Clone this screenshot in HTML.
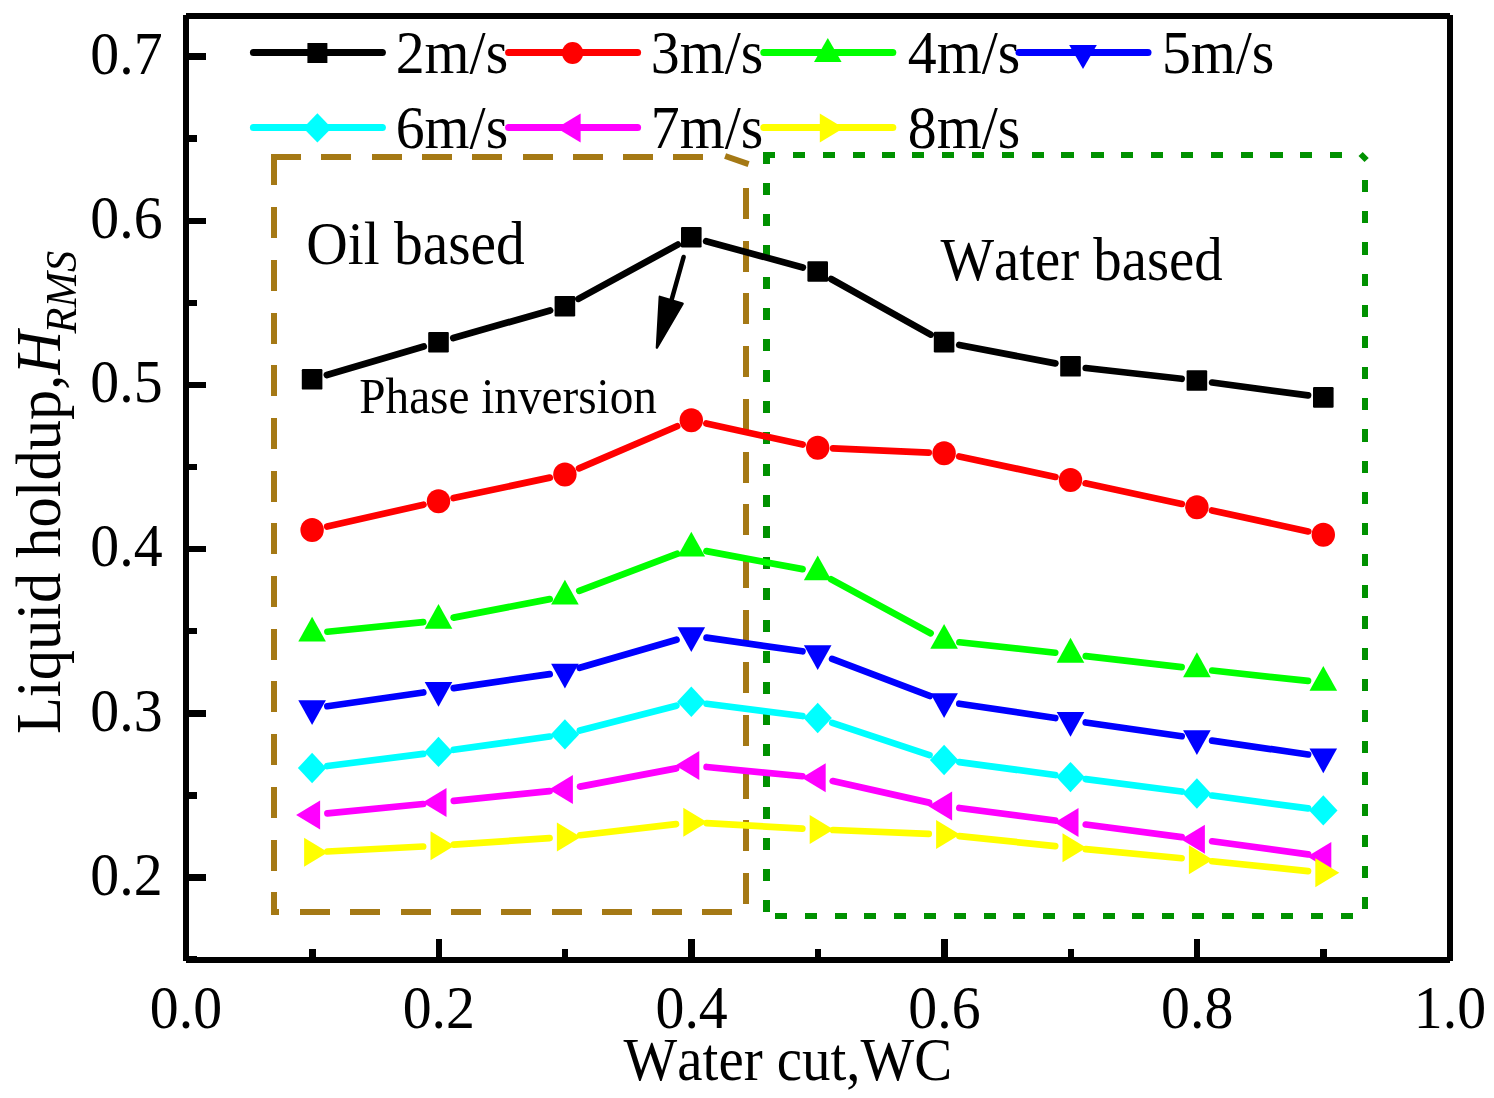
<!DOCTYPE html><html><head><meta charset="utf-8"><style>html,body{margin:0;padding:0;background:#fff;overflow:hidden;width:1494px;height:1098px;}svg{display:block;}text{font-family:"Liberation Serif",serif;fill:#000;font-kerning:none;}</style></head><body>
<svg width="1494" height="1098" viewBox="0 0 1494 1098">
<rect width="1494" height="1098" fill="#fff"/>
<path d="M271 157H301M321.3 157H351.3M371.6 157H401.6M421.9 157H451.9M472.2 157H502.2M522.5 157H552.5M572.8 157H602.8M623.1 157H653.1M673.4 157H703.4" stroke="#a57915" stroke-width="6" fill="none" shape-rendering="crispEdges"/>
<path d="M300 912.4H330M350.3 912.4H380.3M400.6 912.4H430.6M450.9 912.4H480.9M501.2 912.4H531.2M551.5 912.4H581.5M601.8 912.4H631.8M652.1 912.4H682.1M702.4 912.4H732.4" stroke="#a57915" stroke-width="6" fill="none" shape-rendering="crispEdges"/>
<path d="M274 154V185M274 207.1V238.1M274 259.8V290.8M274 312.5V343.5M274 365.2V396.2M274 417.9V448.9M274 470.6V501.6M274 523.3V554.3M274 576V607M274 628.7V659.7M274 681.4V712.4M274 734.1V765.1M274 786.8V817.8M274 839.5V870.5M274 892.2V915.4" stroke="#a57915" stroke-width="6" fill="none" shape-rendering="crispEdges"/>
<path d="M746 188V219M746 240.7V271.7M746 293.4V324.4M746 346.1V377.1M746 398.8V429.8M746 451.5V482.5M746 504.2V535.2M746 556.9V587.9M746 609.6V640.6M746 662.3V693.3M746 715V746M746 767.7V798.7M746 820.4V851.4M746 873.1V904.1" stroke="#a57915" stroke-width="6" fill="none" shape-rendering="crispEdges"/>
<path d="M725.1 156L748.6 164.1" stroke="#a57915" stroke-width="6"/>
<path d="M271 912.4H279" stroke="#a57915" stroke-width="6" shape-rendering="crispEdges"/>
<path d="M762.8 154.9H775M792.9 154.9H805.1M822.74 154.9H834.94M852.58 154.9H864.78M882.42 154.9H894.62M912.26 154.9H924.46M942.1 154.9H954.3M971.94 154.9H984.14M1001.78 154.9H1013.98M1031.62 154.9H1043.82M1061.46 154.9H1073.66M1091.3 154.9H1103.5M1121.14 154.9H1133.34M1150.98 154.9H1163.18M1180.82 154.9H1193.02M1210.66 154.9H1222.86M1240.5 154.9H1252.7M1270.34 154.9H1282.54M1300.18 154.9H1312.38M1330.02 154.9H1342.22" stroke="#009100" stroke-width="6" fill="none" shape-rendering="crispEdges"/>
<path d="M775 916H787M804.79 916H816.79M834.58 916H846.58M864.37 916H876.37M894.16 916H906.16M923.95 916H935.95M953.74 916H965.74M983.53 916H995.53M1013.32 916H1025.32M1043.11 916H1055.11M1072.9 916H1084.9M1102.69 916H1114.69M1132.48 916H1144.48M1162.27 916H1174.27M1192.06 916H1204.06M1221.85 916H1233.85M1251.64 916H1263.64M1281.43 916H1293.43M1311.22 916H1323.22M1341.01 916H1353.01" stroke="#009100" stroke-width="6" fill="none" shape-rendering="crispEdges"/>
<path d="M766.5 151.9V163.9M766.5 183V195M766.5 214.18V226.18M766.5 245.36V257.36M766.5 276.54V288.54M766.5 307.72V319.72M766.5 338.9V350.9M766.5 370.08V382.08M766.5 401.26V413.26M766.5 432.44V444.44M766.5 463.62V475.62M766.5 494.8V506.8M766.5 525.98V537.98M766.5 557.16V569.16M766.5 588.34V600.34M766.5 619.52V631.52M766.5 650.7V662.7M766.5 681.88V693.88M766.5 713.06V725.06M766.5 744.24V756.24M766.5 775.42V787.42M766.5 806.6V818.6M766.5 837.78V849.78M766.5 868.96V880.96M766.5 900.14V912" stroke="#009100" stroke-width="7" fill="none" shape-rendering="crispEdges"/>
<path d="M1365 180.1V192.3M1365 211.27V223.47M1365 242.44V254.64M1365 273.61V285.81M1365 304.78V316.98M1365 335.95V348.15M1365 367.12V379.32M1365 398.29V410.49M1365 429.46V441.66M1365 460.63V472.83M1365 491.8V504M1365 522.97V535.17M1365 554.14V566.34M1365 585.31V597.51M1365 616.48V628.68M1365 647.65V659.85M1365 678.82V691.02M1365 709.99V722.19M1365 741.16V753.36M1365 772.33V784.53M1365 803.5V815.7M1365 834.67V846.87M1365 865.84V878.04M1365 897.01V909.21" stroke="#009100" stroke-width="6" fill="none" shape-rendering="crispEdges"/>
<path d="M1360.6 154L1366.6 160" stroke="#009100" stroke-width="6"/>
<path d="M326.88 374.96L423.72 346.54M453.31 337.98L550.09 310.42M578.42 298.82L677.78 244.58M706.16 241.23L802.84 267.47M831.14 279.01L930.66 334.59M959.23 345L1055.37 363.4M1085.8 368.02L1181.6 378.78M1212.16 382.54L1308.04 395.36" stroke="#000000" stroke-width="6.7" stroke-linecap="round" fill="none"/>
<rect x="301.8" y="369" width="20.6" height="20.6" rx="1.2" fill="#000000"/>
<rect x="428.2" y="331.9" width="20.6" height="20.6" rx="1.2" fill="#000000"/>
<rect x="554.6" y="295.9" width="20.6" height="20.6" rx="1.2" fill="#000000"/>
<rect x="681" y="226.9" width="20.6" height="20.6" rx="1.2" fill="#000000"/>
<rect x="807.4" y="261.2" width="20.6" height="20.6" rx="1.2" fill="#000000"/>
<rect x="933.8" y="331.8" width="20.6" height="20.6" rx="1.2" fill="#000000"/>
<rect x="1060.2" y="356" width="20.6" height="20.6" rx="1.2" fill="#000000"/>
<rect x="1186.6" y="370.2" width="20.6" height="20.6" rx="1.2" fill="#000000"/>
<rect x="1313" y="387.1" width="20.6" height="20.6" rx="1.2" fill="#000000"/>
<path d="M327.12 526.5L423.48 504.7M453.56 498.09L549.84 477.61M579.05 468.33L677.15 426.27M706.35 423.49L802.65 444.51M833.09 448.47L928.71 452.63M959.17 456.49L1055.43 476.91M1085.56 483.33L1181.84 503.97M1211.95 510.47L1308.25 531.43" stroke="#ff0000" stroke-width="6.7" stroke-linecap="round" fill="none"/>
<ellipse cx="312.1" cy="529.9" rx="11.7" ry="12" fill="#ff0000"/>
<ellipse cx="438.5" cy="501.3" rx="11.7" ry="12" fill="#ff0000"/>
<ellipse cx="564.9" cy="474.4" rx="11.7" ry="12" fill="#ff0000"/>
<ellipse cx="691.3" cy="420.2" rx="11.7" ry="12" fill="#ff0000"/>
<ellipse cx="817.7" cy="447.8" rx="11.7" ry="12" fill="#ff0000"/>
<ellipse cx="944.1" cy="453.3" rx="11.7" ry="12" fill="#ff0000"/>
<ellipse cx="1070.5" cy="480.1" rx="11.7" ry="12" fill="#ff0000"/>
<ellipse cx="1196.9" cy="507.2" rx="11.7" ry="12" fill="#ff0000"/>
<ellipse cx="1323.3" cy="534.7" rx="11.7" ry="12" fill="#ff0000"/>
<path d="M327.42 631.72L423.18 622.05M453.62 617.6L549.78 599.14M579.3 590.78L676.9 553.79M706.44 551.16L802.56 569.14M831.23 579.32L930.57 633.25M959.41 642.27L1055.19 652.73M1085.8 656.15L1181.6 667.12M1212.21 670.53L1307.99 680.91" stroke="#00ff00" stroke-width="6.7" stroke-linecap="round" fill="none"/>
<path d="M312.1 616.73L325.9 641.53L298.3 641.53Z" fill="#00ff00"/>
<path d="M438.5 603.97L452.3 628.77L424.7 628.77Z" fill="#00ff00"/>
<path d="M564.9 579.7L578.7 604.5L551.1 604.5Z" fill="#00ff00"/>
<path d="M691.3 531.8L705.1 556.6L677.5 556.6Z" fill="#00ff00"/>
<path d="M817.7 555.43L831.5 580.23L803.9 580.23Z" fill="#00ff00"/>
<path d="M944.1 624.07L957.9 648.87L930.3 648.87Z" fill="#00ff00"/>
<path d="M1070.5 637.87L1084.3 662.67L1056.7 662.67Z" fill="#00ff00"/>
<path d="M1196.9 652.33L1210.7 677.13L1183.1 677.13Z" fill="#00ff00"/>
<path d="M1323.3 666.03L1337.1 690.83L1309.5 690.83Z" fill="#00ff00"/>
<path d="M327.34 706.24L423.26 692.46M453.74 688.06L549.66 674.17M579.7 667.7L676.5 639.77M706.55 637.66L802.45 651.27M832.1 658.9L929.7 695.97M959.33 703.71L1055.27 718.03M1085.74 722.48L1181.66 736.22M1212.14 740.61L1308.06 754.49" stroke="#0000ff" stroke-width="6.7" stroke-linecap="round" fill="none"/>
<path d="M312.1 724.97L325.9 700.17L298.3 700.17Z" fill="#0000ff"/>
<path d="M438.5 706.8L452.3 682L424.7 682Z" fill="#0000ff"/>
<path d="M564.9 688.5L578.7 663.7L551.1 663.7Z" fill="#0000ff"/>
<path d="M691.3 652.03L705.1 627.23L677.5 627.23Z" fill="#0000ff"/>
<path d="M817.7 669.97L831.5 645.17L803.9 645.17Z" fill="#0000ff"/>
<path d="M944.1 717.97L957.9 693.17L930.3 693.17Z" fill="#0000ff"/>
<path d="M1070.5 736.83L1084.3 712.03L1056.7 712.03Z" fill="#0000ff"/>
<path d="M1196.9 754.93L1210.7 730.13L1183.1 730.13Z" fill="#0000ff"/>
<path d="M1323.3 773.23L1337.1 748.43L1309.5 748.43Z" fill="#0000ff"/>
<path d="M327.38 766.05L423.22 753.85M453.75 749.79L549.65 736.51M579.81 730.55L676.39 705.65M706.58 703.76L802.42 716.04M832.31 722.86L929.49 755.14M959.36 762.06L1055.24 775.04M1085.77 779.08L1181.63 791.52M1212.16 795.54L1308.04 808.36" stroke="#00ffff" stroke-width="6.7" stroke-linecap="round" fill="none"/>
<path d="M312.1 752.8L326.3 768L312.1 783.2L297.9 768Z" fill="#00ffff"/>
<path d="M438.5 736.7L452.7 751.9L438.5 767.1L424.3 751.9Z" fill="#00ffff"/>
<path d="M564.9 719.2L579.1 734.4L564.9 749.6L550.7 734.4Z" fill="#00ffff"/>
<path d="M691.3 686.6L705.5 701.8L691.3 717L677.1 701.8Z" fill="#00ffff"/>
<path d="M817.7 702.8L831.9 718L817.7 733.2L803.5 718Z" fill="#00ffff"/>
<path d="M944.1 744.8L958.3 760L944.1 775.2L929.9 760Z" fill="#00ffff"/>
<path d="M1070.5 761.9L1084.7 777.1L1070.5 792.3L1056.3 777.1Z" fill="#00ffff"/>
<path d="M1196.9 778.3L1211.1 793.5L1196.9 808.7L1182.7 793.5Z" fill="#00ffff"/>
<path d="M1323.3 795.2L1337.5 810.4L1323.3 825.6L1309.1 810.4Z" fill="#00ffff"/>
<path d="M327.43 813.4L423.17 804M453.82 800.92L549.58 791.08M580.03 786.63L676.17 768.37M706.63 766.98L802.37 776.22M832.73 781.06L929.07 802.64M959.37 807.99L1055.23 820.51M1085.77 824.52L1181.63 837.18M1212.16 841.29L1308.04 854.41" stroke="#ff00ff" stroke-width="6.7" stroke-linecap="round" fill="none"/>
<path d="M296.1 814.9L320.1 800.4L320.1 829.4Z" fill="#ff00ff"/>
<path d="M422.5 802.5L446.5 788L446.5 817Z" fill="#ff00ff"/>
<path d="M548.9 789.5L572.9 775L572.9 804Z" fill="#ff00ff"/>
<path d="M675.3 765.5L699.3 751L699.3 780Z" fill="#ff00ff"/>
<path d="M801.7 777.7L825.7 763.2L825.7 792.2Z" fill="#ff00ff"/>
<path d="M928.1 806L952.1 791.5L952.1 820.5Z" fill="#ff00ff"/>
<path d="M1054.5 822.5L1078.5 808L1078.5 837Z" fill="#ff00ff"/>
<path d="M1180.9 839.2L1204.9 824.7L1204.9 853.7Z" fill="#ff00ff"/>
<path d="M1307.3 856.5L1331.3 842L1331.3 871Z" fill="#ff00ff"/>
<path d="M327.48 851.5L423.12 846.5M453.86 844.64L549.54 838.06M580.2 835.22L676 824.08M706.68 823.16L802.32 828.54M833.09 830.02L928.71 833.88M959.42 836.1L1055.18 846.1M1085.83 849.16L1181.57 858.24M1212.22 861.28L1307.98 871.12" stroke="#ffff00" stroke-width="6.7" stroke-linecap="round" fill="none"/>
<path d="M328.1 852.3L304.1 837.8L304.1 866.8Z" fill="#ffff00"/>
<path d="M454.5 845.7L430.5 831.2L430.5 860.2Z" fill="#ffff00"/>
<path d="M580.9 837L556.9 822.5L556.9 851.5Z" fill="#ffff00"/>
<path d="M707.3 822.3L683.3 807.8L683.3 836.8Z" fill="#ffff00"/>
<path d="M833.7 829.4L809.7 814.9L809.7 843.9Z" fill="#ffff00"/>
<path d="M960.1 834.5L936.1 820L936.1 849Z" fill="#ffff00"/>
<path d="M1086.5 847.7L1062.5 833.2L1062.5 862.2Z" fill="#ffff00"/>
<path d="M1212.9 859.7L1188.9 845.2L1188.9 874.2Z" fill="#ffff00"/>
<path d="M1339.3 872.7L1315.3 858.2L1315.3 887.2Z" fill="#ffff00"/>
<path d="M183 15H189V961H183ZM186 13H1450V19H186ZM1447 15H1453V961H1447ZM186 957H1450V963H186Z" fill="#000" shape-rendering="crispEdges"/>
<path d="M186 959.6H197M186 877.5H206M186 795.4H197M186 713.3H206M186 631.2H197M186 549.1H206M186 467H197M186 384.9H206M186 302.8H197M186 220.7H206M186 138.6H197M186 56.5H206M312.4 960V949M438.8 960V939M565.2 960V949M691.6 960V939M818 960V949M944.4 960V939M1070.8 960V949M1197.2 960V939M1323.6 960V949" stroke="#000" stroke-width="6.4" fill="none" shape-rendering="crispEdges"/>
<text transform="translate(162.6 894.7) scale(0.933 1)" font-size="62" text-anchor="end">0.2</text>
<text transform="translate(162.6 730.5) scale(0.933 1)" font-size="62" text-anchor="end">0.3</text>
<text transform="translate(162.6 566.3) scale(0.933 1)" font-size="62" text-anchor="end">0.4</text>
<text transform="translate(162.6 402.1) scale(0.933 1)" font-size="62" text-anchor="end">0.5</text>
<text transform="translate(162.6 237.9) scale(0.933 1)" font-size="62" text-anchor="end">0.6</text>
<text transform="translate(162.6 73.7) scale(0.933 1)" font-size="62" text-anchor="end">0.7</text>
<text transform="translate(186 1027.6) scale(0.933 1)" font-size="62" text-anchor="middle">0.0</text>
<text transform="translate(438.8 1027.6) scale(0.933 1)" font-size="62" text-anchor="middle">0.2</text>
<text transform="translate(691.6 1027.6) scale(0.933 1)" font-size="62" text-anchor="middle">0.4</text>
<text transform="translate(944.4 1027.6) scale(0.933 1)" font-size="62" text-anchor="middle">0.6</text>
<text transform="translate(1197.2 1027.6) scale(0.933 1)" font-size="62" text-anchor="middle">0.8</text>
<text transform="translate(1450 1027.6) scale(0.933 1)" font-size="62" text-anchor="middle">1.0</text>
<text transform="translate(306.2 264) scale(0.9421 1)" font-size="61">Oil based</text>
<text transform="translate(940.4 279.8) scale(0.9314 1)" font-size="61">Water based</text>
<text transform="translate(359.28 413.1) scale(0.9368 1)" font-size="50.4">Phase inversion</text>
<text transform="translate(623.6 1080.4) scale(0.9181 1)" font-size="62">Water cut,WC</text>
<path d="M253.4 52.45H382.4" stroke="#000000" stroke-width="7" stroke-linecap="round"/>
<rect x="307.4" y="42.95" width="20" height="20" rx="0.3" fill="#000000"/>
<text transform="translate(395.7 72.9) scale(0.933 1)" font-size="62">2m/s</text>
<path d="M508.6 52.45H637.6" stroke="#ff0000" stroke-width="7" stroke-linecap="round"/>
<ellipse cx="572.6" cy="52.95" rx="10.6" ry="11.05" fill="#ff0000"/>
<text transform="translate(650.8 72.9) scale(0.933 1)" font-size="62">3m/s</text>
<path d="M763.8 52.45H892.8" stroke="#00ff00" stroke-width="7" stroke-linecap="round"/>
<path d="M827.8 37.92L841.6 62.12L814 62.12Z" fill="#00ff00"/>
<text transform="translate(907.8 72.9) scale(0.933 1)" font-size="62">4m/s</text>
<path d="M1019 52.45H1148" stroke="#0000ff" stroke-width="7" stroke-linecap="round"/>
<path d="M1083 69.08L1096.8 44.88L1069.2 44.88Z" fill="#0000ff"/>
<text transform="translate(1161.9 72.9) scale(0.933 1)" font-size="62">5m/s</text>
<path d="M253.4 127.45H382.4" stroke="#00ffff" stroke-width="7" stroke-linecap="round"/>
<path d="M317.4 113.35L331.6 127.95L317.4 142.55L303.2 127.95Z" fill="#00ffff"/>
<text transform="translate(395.7 147.9) scale(0.933 1)" font-size="62">6m/s</text>
<path d="M508.6 127.45H637.6" stroke="#ff00ff" stroke-width="7" stroke-linecap="round"/>
<path d="M556.6 127.95L580.6 113.45L580.6 142.45Z" fill="#ff00ff"/>
<text transform="translate(650.8 147.9) scale(0.933 1)" font-size="62">7m/s</text>
<path d="M763.8 127.45H892.8" stroke="#ffff00" stroke-width="7" stroke-linecap="round"/>
<path d="M843.8 127.95L819.8 113.45L819.8 142.45Z" fill="#ffff00"/>
<text transform="translate(907.8 147.9) scale(0.933 1)" font-size="62">8m/s</text>
<path d="M683.6 257L666.5 318" stroke="#000" stroke-width="4.6" stroke-linecap="round"/>
<path d="M659.8 296.8L682.6 303.7L656.9 347.6Z" fill="#000" stroke="#000" stroke-width="2.4" stroke-linejoin="round"/>
<g transform="translate(60.3 732.2) rotate(-90)" style="filter:grayscale(1)"><text transform="scale(0.968 1)" font-size="62.5" x="-2"><tspan>Liquid holdup,</tspan><tspan font-style="italic">H</tspan><tspan font-style="italic" font-size="44" dy="16" dx="-2.8">RMS</tspan></text></g>
</svg></body></html>
